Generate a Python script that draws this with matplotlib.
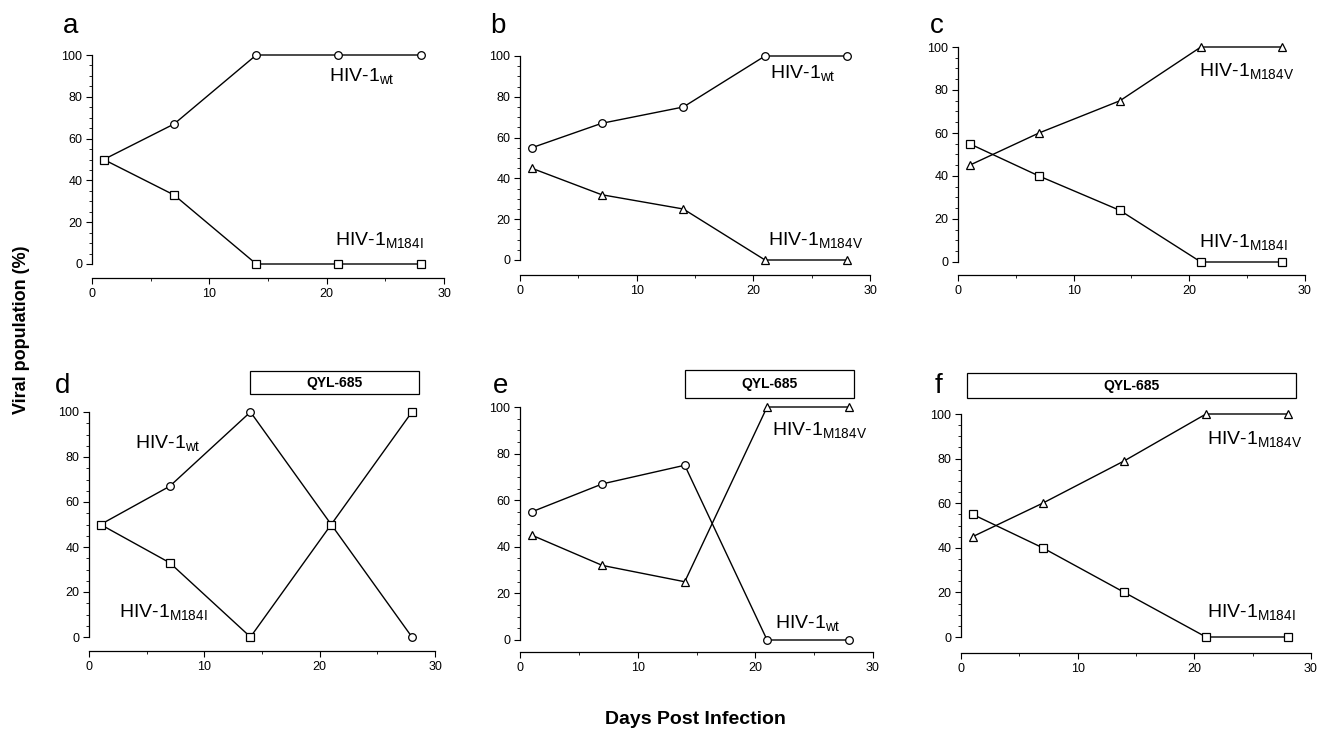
import matplotlib.pyplot as plt
from matplotlib.patches import Rectangle
from matplotlib.ticker import FixedLocator

plt.rcParams['font.family'] = ['Liberation Sans', 'DejaVu Sans']
plt.rcParams['mathtext.fontset'] = 'custom'
plt.rcParams['mathtext.rm'] = 'Liberation Sans'
plt.rcParams['mathtext.it'] = 'Liberation Sans'

# data
days = [1, 7, 14, 21, 28]

a_wt = [50, 67, 100, 100, 100]
a_m184i = [50, 33, 0, 0, 0]
b_wt = [55, 67, 75, 100, 100]
b_m184v = [45, 32, 25, 0, 0]
c_m184v = [45, 60, 75, 100, 100]
c_m184i = [55, 40, 24, 0, 0]
d_wt = [50, 67, 100, 50, 0]
d_m184i = [50, 33, 0, 50, 100]
e_wt = [55, 67, 75, 0, 0]
e_m184v = [45, 32, 25, 100, 100]
f_m184v = [45, 60, 79, 100, 100]
f_m184i = [55, 40, 20, 0, 0]

panel_letters = ['a', 'b', 'c', 'd', 'e', 'f']
drug_name = 'QYL-685'
drug_start = [None, None, None, 14, 14, 0.5]

WT = r'HIV-1$_{\mathrm{wt}}$'
M184I = r'HIV-1$_{\mathrm{M184I}}$'
M184V = r'HIV-1$_{\mathrm{M184V}}$'

series = {
    'a': [(a_wt, 'o', WT), (a_m184i, 's', M184I)],
    'b': [(b_wt, 'o', WT), (b_m184v, '^', M184V)],
    'c': [(c_m184v, '^', M184V), (c_m184i, 's', M184I)],
    'd': [(d_wt, 'o', WT), (d_m184i, 's', M184I)],
    'e': [(e_wt, 'o', WT), (e_m184v, '^', M184V)],
    'f': [(f_m184v, '^', M184V), (f_m184i, 's', M184I)],
}

# layout (pixels): x at day 0, x at day 30, y at 0 %, y at 100 %, x-axis line
W, H = 1320, 730
frames = {
    'a': (92, 444, 264, 55, 278),
    'b': (520, 870, 260, 56, 275),
    'c': (958, 1305, 262, 47, 275),
    'd': (89, 435, 637, 412, 651),
    'e': (520, 873, 640, 407, 652),
    'f': (961, 1311, 637, 414, 653),
}
# label positions in data units for each series
label_pos = {
    'a': [(20.2, 90), (20.7, 11.5)],
    'b': [(21.4, 91.5), (21.3, 10)],
    'c': [(20.8, 89), (20.8, 9.5)],
    'd': [(4.0, 86), (2.6, 11)],
    'e': [(21.7, 7.5), (21.4, 90)],
    'f': [(21.1, 89), (21.1, 11)],
}
letter_pos = {'a': (63, 33), 'b': (490, 33), 'c': (930, 33),
              'd': (55, 393), 'e': (493, 393), 'f': (935, 393)}
box_pos = {'d': (28.6, 108, 118), 'e': (28.4, 104, 116), 'f': (28.7, 107, 118.4)}

fig = plt.figure(figsize=(W / 100, H / 100), dpi=100)

for p in panel_letters:
    x0, x30, y0, y100, xax = frames[p]
    s = (y0 - y100) / 100.0
    top_pad = 2
    top_px = y100 - top_pad * s
    ax = fig.add_axes([x0 / W, 1 - xax / H, (x30 - x0) / W, (xax - top_px) / H])
    ax.set_xlim(0, 30)
    ax.set_ylim(-(xax - y0) / s, 100 + top_pad)

    for (vals, mk, lab), (lx, ly) in zip(series[p], label_pos[p]):
        ax.plot(days, vals, color='black', linewidth=1.0, marker=mk,
                markersize=5.5 if mk != '^' else 6, markerfacecolor='white',
                markeredgecolor='black', markeredgewidth=0.9, clip_on=False, zorder=3)
        ax.text(lx, ly, lab, fontsize=14, va='center', ha='left')

    for side in ['top', 'right']:
        ax.spines[side].set_visible(False)
    ax.spines['left'].set_bounds(0, 100)
    ax.spines['bottom'].set_bounds(0, 30)
    ax.spines['left'].set_linewidth(0.9)
    ax.spines['bottom'].set_linewidth(0.9)

    ax.xaxis.set_major_locator(FixedLocator([0, 10, 20, 30]))
    ax.xaxis.set_minor_locator(FixedLocator([5, 15, 25]))
    ax.yaxis.set_major_locator(FixedLocator([0, 20, 40, 60, 80, 100]))
    ax.yaxis.set_minor_locator(FixedLocator([v for v in range(5, 100, 5) if v % 20]))
    ax.tick_params(axis='both', which='major', direction='out', length=4,
                   width=0.8, labelsize=9, pad=3)
    ax.tick_params(axis='both', which='minor', direction='out', length=2, width=0.6)
    ax.patch.set_visible(False)

    lx, ly = letter_pos[p]
    fig.text(lx / W, 1 - ly / H, p, fontsize=20, ha='left', va='baseline')

    if drug_start[panel_letters.index(p)] is not None:
        x_end, yb, yt = box_pos[p]
        xs = drug_start[panel_letters.index(p)]
        ax.add_patch(Rectangle((xs, yb), x_end - xs, yt - yb, fill=False,
                               edgecolor='black', linewidth=0.9, clip_on=False))
        ax.text((xs + x_end) / 2, (yb + yt) / 2, drug_name, fontsize=10,
                fontweight='bold', ha='center', va='center')

fig.text(22 / W, 1 - 330 / H, 'Viral population (%)', rotation=90,
         fontsize=13, fontweight='bold', ha='center', va='center')
fig.text(695 / W, 1 - 720 / H, 'Days Post Infection', fontsize=14,
         fontweight='bold', ha='center', va='center')

fig.savefig('out.png', dpi=100)
